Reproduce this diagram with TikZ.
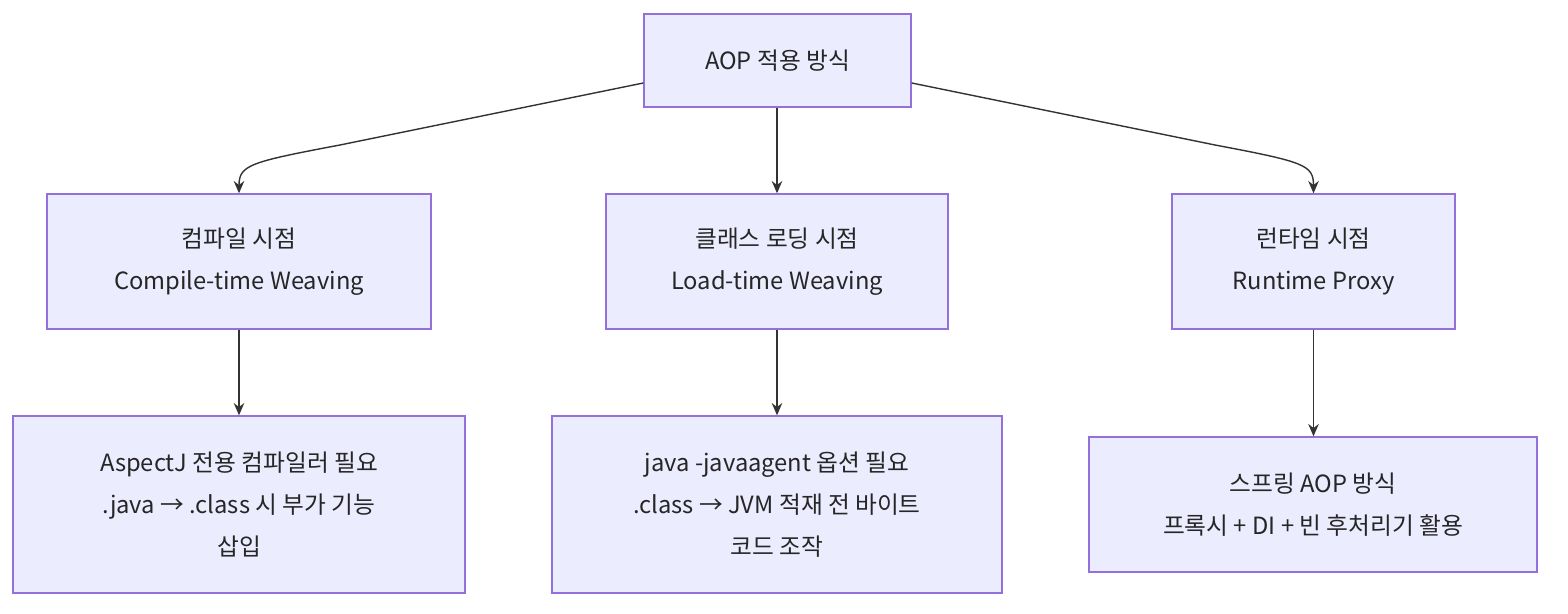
\documentclass[tikz,border=0pt]{standalone}
\usepackage{fontspec}
\setmainfont{Noto Sans CJK KR}
\usetikzlibrary{arrows.meta}
\definecolor{bfill}{HTML}{ECECFF}
\definecolor{bline}{HTML}{9370DB}
\definecolor{aline}{HTML}{333333}
\begin{document}
\begin{tikzpicture}[x=0.02cm,y=-0.02cm,
  box/.style={draw=bline,fill=bfill,line width=0.8pt,align=center,inner sep=0pt,
    font=\fontsize{13.5}{24}\selectfont,text=black!85},
  arr/.style={draw=aline,line width=0.8pt,-{Stealth[length=7pt,width=6pt]}}]
\useasboundingbox (0,0) rectangle (1568,614);
\node[box,minimum width=5.34cm,minimum height=1.86cm] (top) at (777.5,60.5) {AOP 적용 방식};
\node[box,minimum width=7.68cm,minimum height=2.7cm] (l1) at (239,261.5) {컴파일 시점\\Compile-time Weaving};
\node[box,minimum width=6.84cm,minimum height=2.7cm] (m1) at (777,261.5) {클래스 로딩 시점\\Load-time Weaving};
\node[box,minimum width=5.66cm,minimum height=2.7cm] (r1) at (1313.5,261.5) {런타임 시점\\Runtime Proxy};
\node[box,minimum width=9.04cm,minimum height=3.54cm] (l2) at (239,504.5) {AspectJ 전용 컴파일러 필요\\.java → .class 시 부가 기능\\삽입};
\node[box,minimum width=9.0cm,minimum height=3.54cm] (m2) at (777,504.5) {java -javaagent 옵션 필요\\.class → JVM 적재 전 바이트\\코드 조작};
\node[box,minimum width=8.96cm,minimum height=2.7cm] (r2) at (1313,504.5) {스프링 AOP 방식\\프록시 + DI + 빈 후처리기 활용};
\draw[arr] (top.west |- 0,83) -- (340,145) .. controls (250,162) and (239,165) .. (l1.north);
\draw[arr] (top.east |- 0,83) -- (1215,145) .. controls (1305,162) and (1313.5,165) .. (r1.north);
\draw[arr] (top.south -| m1.north) -- (m1.north);
\draw[arr] (l1) -- (l2);
\draw[arr] (m1) -- (m2);
\draw[arr] (r1.south) -- (r1.south |- r2.north);
\end{tikzpicture}
\end{document}
